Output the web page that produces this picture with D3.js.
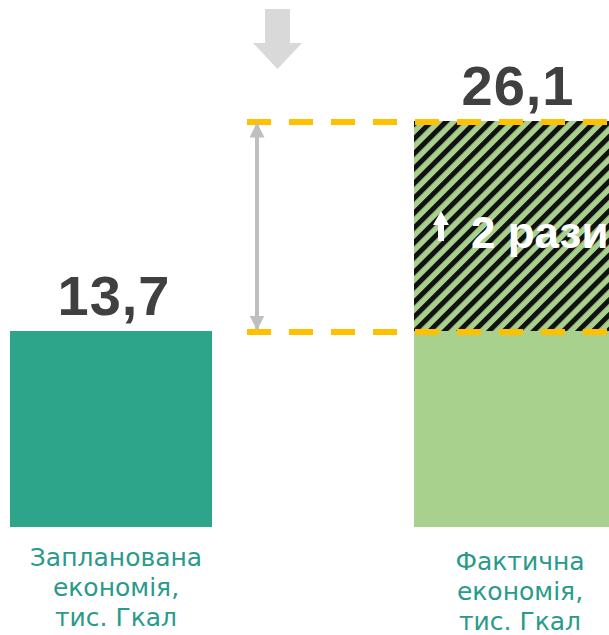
<!DOCTYPE html>
<html>
<head>
<meta charset="utf-8">
<script src="https://cdn.jsdelivr.net/npm/d3@7"></script>
<style>
  html, body { margin: 0; padding: 0; background: #fff; overflow: hidden; }
  svg { display: block; }
</style>
</head>
<body>
<div id="chart"></div>
<script>
  // chart values
  const categories = ["planned", "actual"];
  const labelLines = [
    ["Запланована", "економія,", "тис. Гкал"],
    ["Фактична", "економія,", "тис. Гкал"]
  ];
  const values = [13.7, 26.1];
  const valueLabels = ["13,7", "26,1"];
  const growthLabel = "2 рази";

  var W = 609, H = 635;

  var svg = d3.select("#chart").append("svg")
      .attr("width", W)
      .attr("height", H);

  var defs = svg.append("defs");

  // diagonal hatch for the growth part
  var pat = defs.append("pattern")
      .attr("id", "hatch")
      .attr("patternUnits", "userSpaceOnUse")
      .attr("width", 10.5).attr("height", 10.5)
      .attr("patternTransform", "rotate(45)");
  pat.append("rect").attr("width", 10.5).attr("height", 10.5).attr("fill", "#a9d18e");
  pat.append("rect").attr("width", 5).attr("height", 10.5).attr("fill", "#111");

  defs.append("marker")
      .attr("id", "ahead")
      .attr("viewBox", "0 0 10 10")
      .attr("refX", 9).attr("refY", 5)
      .attr("markerUnits", "userSpaceOnUse")
      .attr("markerWidth", 15).attr("markerHeight", 15)
      .attr("orient", "auto-start-reverse")
    .append("path")
      .attr("d", "M0,0L10,5L0,10Z")
      .attr("fill", "#bfbfbf");

  // scales (the slide is not drawn to a zero-based proportion, so the
  // planned value is used as a pivot)
  var x = d3.scaleBand().domain(categories).range([10, 616]).paddingInner(0.5);
  var y = d3.scaleLinear().domain([0, values[0], values[1]]).range([527, 331, 121]);

  // planned bar
  svg.append("rect")
      .attr("x", x(categories[0]))
      .attr("y", y(values[0]))
      .attr("width", x.bandwidth())
      .attr("height", y(0) - y(values[0]))
      .attr("fill", "#2ca58a");

  // actual bar: base part equal to plan + hatched growth
  svg.append("rect")
      .attr("x", x(categories[1]))
      .attr("y", y(values[0]))
      .attr("width", x.bandwidth())
      .attr("height", y(0) - y(values[0]))
      .attr("fill", "#a9d18e");
  svg.append("rect")
      .attr("x", x(categories[1]))
      .attr("y", y(values[1]))
      .attr("width", x.bandwidth())
      .attr("height", y(values[0]) - y(values[1]))
      .attr("fill", "url(#hatch)");

  // dashed reference lines
  svg.selectAll("line.ref")
    .data(values)
    .enter().append("line")
      .attr("class", "ref")
      .attr("x1", 247).attr("x2", W + 10)
      .attr("y1", d => y(d) + 1).attr("y2", d => y(d) + 1)
      .attr("stroke", "#ffc000")
      .attr("stroke-width", 6)
      .attr("stroke-dasharray", "24 18");

  // gray double arrow between the two levels
  svg.append("line")
      .attr("x1", 257).attr("x2", 257)
      .attr("y1", y(values[1]) + 3).attr("y2", y(values[0]) - 2)
      .attr("stroke", "#bfbfbf")
      .attr("stroke-width", 4)
      .attr("marker-start", "url(#ahead)")
      .attr("marker-end", "url(#ahead)");

  // big gray arrow on top
  svg.append("path")
      .attr("d", "M265,9H290V43H302L277.5,69L253,43H265Z")
      .attr("fill", "#d9d9d9");

  // value labels
  svg.selectAll("text.val")
    .data(values)
    .enter().append("text")
      .attr("class", "val")
      .attr("x", (d, i) => x(categories[i]) + x.bandwidth() / 2 + 3)
      .attr("y", d => y(d) - 16)
      .attr("text-anchor", "middle")
      .attr("font-family", "'Liberation Sans', Arial, sans-serif")
      .attr("font-weight", "bold")
      .attr("font-size", 56)
      .attr("letter-spacing", 1)
      .attr("fill", "#404040")
      .text((d, i) => valueLabels[i]);

  // growth note inside the hatched part
  var midY = (y(values[0]) + y(values[1])) / 2;
  svg.append("path")
      .attr("d", "M441,215L449,229H444V245H438V229H433Z")
      .attr("transform", "translate(0," + (midY - 230) + ")")
      .attr("fill", "#fff");
  svg.append("text")
      .attr("x", 471)
      .attr("y", midY + 22)
      .attr("font-family", "'Liberation Sans', Arial, sans-serif")
      .attr("font-weight", "bold")
      .attr("font-size", 44)
      .attr("fill", "#fff")
      .text(growthLabel);

  // category labels
  var lineTop = [566, 570];
  labelLines.forEach(function(lines, i) {
    var t = svg.append("text")
        .attr("text-anchor", "middle")
        .attr("font-family", "'DejaVu Sans', sans-serif")
        .attr("font-size", 25)
        .attr("fill", "#2a9a8a");
    lines.forEach(function(s, j) {
      t.append("tspan")
          .attr("x", x(categories[i]) + x.bandwidth() / 2 + 5)
          .attr("y", lineTop[i] + j * 30)
          .text(s);
    });
  });
</script>
</body>
</html>
